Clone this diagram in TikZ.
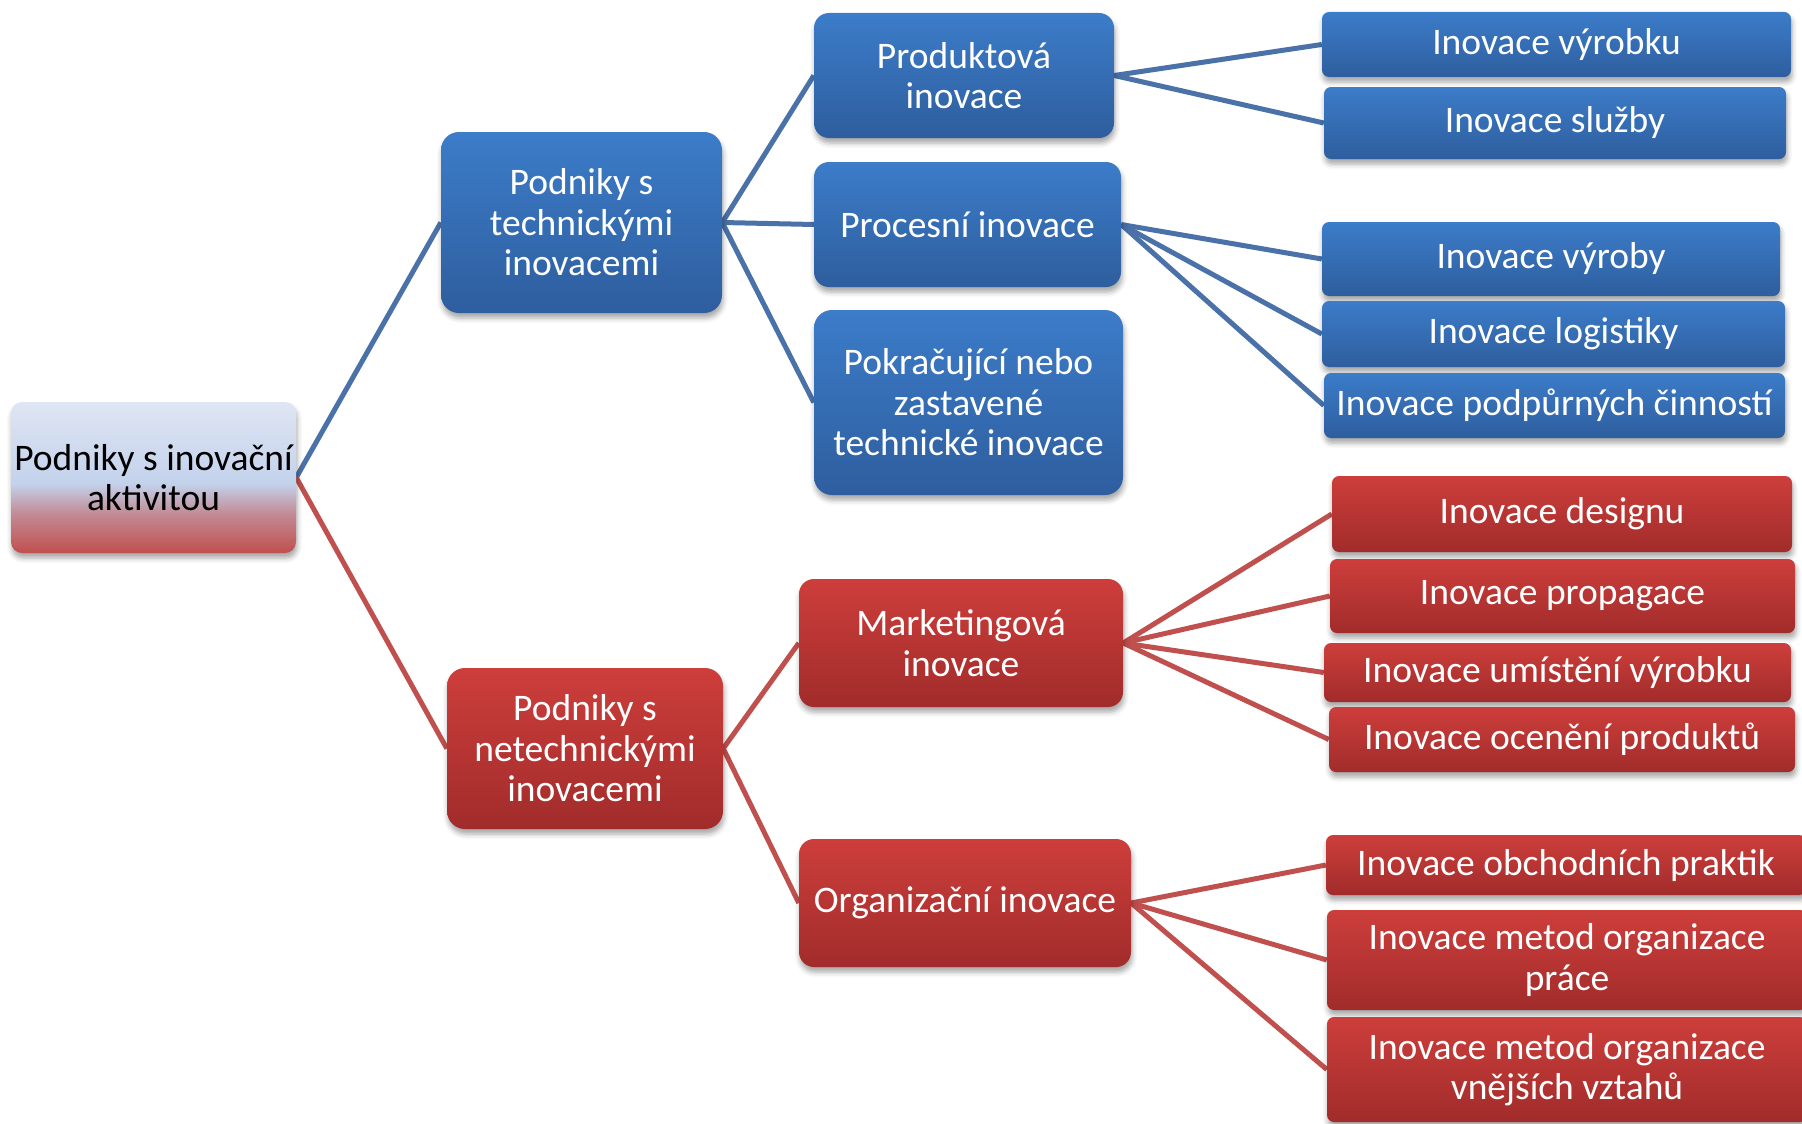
\documentclass[tikz,border=0pt]{standalone}
\usepackage{fontspec}
\setmainfont{Carlito}
\usetikzlibrary{shadows.blur,backgrounds}
\definecolor{btop}{HTML}{3C7CC9}
\definecolor{bbot}{HTML}{2E5E9E}
\definecolor{rtop}{HTML}{CD3E3B}
\definecolor{rbot}{HTML}{A12C2B}
\definecolor{bline}{HTML}{4A72A8}
\definecolor{rline}{HTML}{C0504D}
\definecolor{roottop}{HTML}{DFE5F3}
\definecolor{rootmid}{HTML}{C3D2EC}
\definecolor{rootbot}{HTML}{C0504D}
\pgfdeclareverticalshading{rootshade}{100bp}{color(0bp)=(rootbot); color(25bp)=(rootbot); color(38bp)=(rootbot!55!rootmid); color(48bp)=(rootmid); color(75bp)=(roottop); color(100bp)=(roottop)}
\tikzset{
  bx/.style={align=center, inner sep=0pt, font=\fontsize{37.5}{40.5}\selectfont,
    blur shadow={shadow xshift=1pt, shadow yshift=-5pt, shadow blur radius=5pt, shadow opacity=35}},
  bluebox/.style={bx, text=white, top color=btop, bottom color=bbot, rounded corners=#1},
  redbox/.style={bx, text=white, top color=rtop, bottom color=rbot, rounded corners=#1},
  bluebox/.default=7pt, redbox/.default=7pt,
  bcon/.style={draw=bline, line width=5pt},
  rcon/.style={draw=rline, line width=5pt},
}
\begin{document}
\begin{tikzpicture}[x=1pt,y=-1pt]
\useasboundingbox (0,0) rectangle (1802,1124);
\clip (0,0) rectangle (1802,1124);
% nodes
\node[bx, text=black, shading=rootshade, rounded corners=11pt,
  minimum width=285pt, minimum height=151pt] (root) at (153.5,477.5) {Podniky s inovační\\aktivitou};
\node[bluebox=18pt, minimum width=281pt, minimum height=181pt] (tech) at (581.5,222.5) {Podniky s\\technickými\\inovacemi};
\node[redbox=18pt, minimum width=276pt, minimum height=161pt] (nontech) at (585,748.5) {Podniky s\\netechnickými\\inovacemi};
\node[bluebox=15pt, minimum width=300pt, minimum height=125pt] (prod) at (964,75.5) {Produktová\\inovace};
\node[bluebox=15pt, minimum width=307pt, minimum height=125pt] (proc) at (967.5,224.5) {Procesní inovace};
\node[bluebox=18pt, minimum width=309pt, minimum height=185pt] (pokr) at (968.5,402.5) {Pokračující nebo\\zastavené\\technické inovace};
\node[redbox=15pt, minimum width=324pt, minimum height=128pt] (mark) at (961,643) {Marketingová\\inovace};
\node[redbox=15pt, minimum width=332pt, minimum height=128pt] (org) at (965,903) {Organizační inovace};
\node[bluebox, minimum width=469pt, minimum height=65pt] (vyrobku) at (1556.5,44.5) {Inovace výrobku};
\node[bluebox, minimum width=462pt, minimum height=72pt] (sluzby) at (1555,123) {Inovace služby};
\node[bluebox, minimum width=458pt, minimum height=74pt] (vyroby) at (1551,259) {Inovace výroby};
\node[bluebox, minimum width=463pt, minimum height=66pt] (logist) at (1553.5,334) {Inovace logistiky};
\node[bluebox, minimum width=461pt, minimum height=65pt] (podp) at (1554.5,405.5) {Inovace podpůrných činností};
\node[redbox, minimum width=460pt, minimum height=76pt] (design) at (1562,514) {Inovace designu};
\node[redbox, minimum width=465pt, minimum height=74pt] (propag) at (1562.5,596) {Inovace propagace};
\node[redbox, minimum width=467pt, minimum height=59pt] (umist) at (1557.5,672.5) {Inovace umístění výrobku};
\node[redbox, minimum width=466pt, minimum height=65pt] (ocen) at (1562,739.5) {Inovace ocenění produktů};
\node[redbox, minimum width=480pt, minimum height=60pt] (obch) at (1566,865) {Inovace obchodních praktik};
\node[redbox, minimum width=480pt, minimum height=100pt] (mprace) at (1567,960) {Inovace metod organizace\\práce};
\node[redbox, minimum width=480pt, minimum height=105pt] (mvnej) at (1567,1069.5) {Inovace metod organizace\\vnějších vztahů};
% connectors (behind nodes)
\begin{pgfonlayer}{background}
\path[bcon] (root.east) -- (tech.west);
\path[rcon] (root.east) -- (nontech.west);
\path[bcon] (tech.east) -- (prod.west);
\path[bcon] (tech.east) -- (proc.west);
\path[bcon] (tech.east) -- (pokr.west);
\path[rcon] (nontech.east) -- (mark.west);
\path[rcon] (nontech.east) -- (org.west);
\path[bcon] (prod.east) -- (vyrobku.west);
\path[bcon] (prod.east) -- (sluzby.west);
\path[bcon] (proc.east) -- (vyroby.west);
\path[bcon] (proc.east) -- (logist.west);
\path[bcon] (proc.east) -- (podp.west);
\path[rcon] (mark.east) -- (design.west);
\path[rcon] (mark.east) -- (propag.west);
\path[rcon] (mark.east) -- (umist.west);
\path[rcon] (mark.east) -- (ocen.west);
\path[rcon] (org.east) -- (obch.west);
\path[rcon] (org.east) -- (mprace.west);
\path[rcon] (org.east) -- (mvnej.west);
\end{pgfonlayer}
\end{tikzpicture}
\end{document}
